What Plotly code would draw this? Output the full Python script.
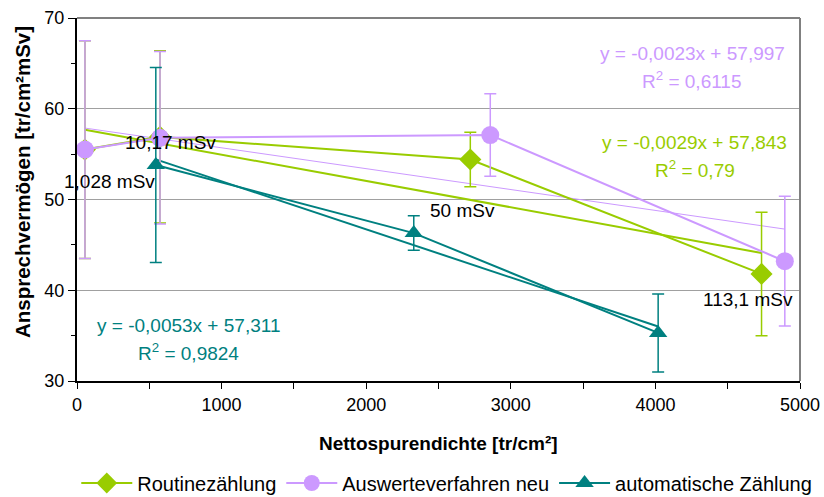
import numpy as np
import plotly.graph_objects as go

# ---- data ----
series_names = ["Routinezählung", "Auswerteverfahren neu", "automatische Zählung"]

routine_x = [55, 574, 2720, 4734]
routine_y = [55.5, 56.9, 54.4, 41.8]
routine_err = [12.0, 9.5, 3.0, 6.8]

neu_x = [55, 574, 2858, 4895]
neu_y = [55.5, 56.8, 57.1, 43.2]
neu_err = [12.0, 9.5, 4.55, 7.15]

auto_x = [545, 2329, 4019]
auto_y = [53.8, 46.3, 35.3]
auto_err = [10.75, 1.9, 4.3]

trend_slopes = [-0.0029, -0.0023, -0.0053]
trend_intercepts = [57.843, 57.997, 57.311]
trend_eq_texts = ["y = -0,0029x + 57,843", "y = -0,0023x + 57,997", "y = -0,0053x + 57,311"]
trend_r2_texts = ["R<sup>2</sup> = 0,79", "R<sup>2</sup> = 0,6115", "R<sup>2</sup> = 0,9824"]

dose_labels = ["1,028 mSv", "10,17 mSv", "50 mSv", "113,1 mSv"]

x_title = "Nettospurendichte [tr/cm²]"
y_title = "Ansprechvermögen [tr/cm²mSv]"

# ---- styles ----
GREEN = "#99CC00"
PURPLE = "#CC99FF"
TEAL = "#008080"
FONT = "Liberation Sans, Arial, sans-serif"

fig = go.Figure()

# trendlines
trend_src = [(routine_x, GREEN, 2), (neu_x, PURPLE, 1), (auto_x, TEAL, 2)]
for (xs, col, w), m, b in zip(trend_src, trend_slopes, trend_intercepts):
    tx = np.array([min(xs), max(xs)], dtype=float)
    fig.add_trace(go.Scatter(x=tx, y=m * tx + b, mode="lines",
                             line=dict(color=col, width=w),
                             showlegend=False, hoverinfo="skip"))

# series
fig.add_trace(go.Scatter(
    x=routine_x, y=routine_y, name=series_names[0], mode="lines+markers",
    line=dict(color=GREEN, width=2),
    marker=dict(symbol="diamond", size=17, color=GREEN),
    error_y=dict(type="data", array=routine_err, color=GREEN, thickness=1.5, width=6)))
fig.add_trace(go.Scatter(
    x=neu_x, y=neu_y, name=series_names[1], mode="lines+markers",
    line=dict(color=PURPLE, width=2),
    marker=dict(symbol="circle", size=18, color=PURPLE),
    error_y=dict(type="data", array=neu_err, color=PURPLE, thickness=1.5, width=6)))
fig.add_trace(go.Scatter(
    x=auto_x, y=auto_y, name=series_names[2], mode="lines+markers",
    line=dict(color=TEAL, width=2),
    marker=dict(symbol="triangle-up", size=16, color=TEAL),
    error_y=dict(type="data", array=auto_err, color=TEAL, thickness=1.5, width=6)))

annotations = []
# dose labels (positions in data units)
label_pos = [(225, 51.93), (644, 56.23), (2664, 48.84), (4637, 38.93)]
for txt, (ax, ay) in zip(dose_labels, label_pos):
    annotations.append(dict(x=ax, y=ay, xref="x", yref="y", text=txt, showarrow=False,
                            font=dict(size=19, color="black", family=FONT)))

# trend equations
eq_pos = [((4273, 56.26), (4273, 53.36)), ((4256, 66.1), (4256, 63.2)), ((768, 36.17), (768, 33.23))]
for eq, r2, ((ex, ey), (rx, ry)), col in zip(trend_eq_texts, trend_r2_texts, eq_pos, [GREEN, PURPLE, TEAL]):
    annotations.append(dict(x=ex, y=ey, xref="x", yref="y", text=eq, showarrow=False,
                            font=dict(size=19, color=col, family=FONT)))
    annotations.append(dict(x=rx, y=ry, xref="x", yref="y", text=r2, showarrow=False,
                            font=dict(size=19, color=col, family=FONT)))

# axis titles
annotations.append(dict(x=0.5, y=-0.1708, xref="paper", yref="paper", text="<b>" + x_title + "</b>",
                        showarrow=False, xanchor="center", yanchor="middle",
                        font=dict(size=19, color="black", family=FONT)))
annotations.append(dict(x=-0.0761, y=0.548, xref="paper", yref="paper", text="<b>" + y_title + "</b>",
                        showarrow=False, textangle=-90, xanchor="center", yanchor="middle",
                        font=dict(size=20.5, color="black", family=FONT)))

fig.update_layout(
    width=824, height=497,
    margin=dict(l=77, r=24, t=18, b=116, autoexpand=False),
    paper_bgcolor="white", plot_bgcolor="white",
    font=dict(family=FONT, size=19, color="black"),
    annotations=annotations,
    legend=dict(orientation="h", xref="paper", x=-0.001, xanchor="left",
                yref="paper", y=-0.281, yanchor="middle",
                font=dict(size=20, color="black", family=FONT), itemwidth=51,
                bgcolor="rgba(0,0,0,0)"),
    shapes=[
        dict(type="line", xref="paper", yref="paper", x0=0, x1=1, y0=1, y1=1,
             line=dict(color="#808080", width=2)),
        dict(type="line", xref="paper", yref="paper", x0=1, x1=1, y0=0, y1=1,
             line=dict(color="#808080", width=2)),
    ],
)

fig.update_xaxes(range=[0, 5000], dtick=1000, tick0=0, showgrid=False, zeroline=False,
                 showline=True, linecolor="black", linewidth=2,
                 ticks="outside", ticklen=6, tickcolor="black", tickwidth=1,
                 minor=dict(dtick=500, ticks="outside", ticklen=6, tickcolor="black", showgrid=False),
                 tickfont=dict(size=18, color="black", family=FONT))
fig.update_yaxes(range=[30, 70], dtick=10, tick0=30, showgrid=True, gridcolor="#A0A0A0", gridwidth=1,
                 zeroline=False, showline=True, linecolor="black", linewidth=2,
                 ticks="outside", ticklen=7, tickcolor="black", tickwidth=1,
                 minor=dict(dtick=5, ticks="outside", ticklen=4, tickcolor="black", showgrid=False),
                 tickfont=dict(size=18, color="black", family=FONT))

fig.write_html("out.html", config={"displayModeBar": False},
               post_script="document.body.style.margin='0';document.body.style.overflow='hidden';")
